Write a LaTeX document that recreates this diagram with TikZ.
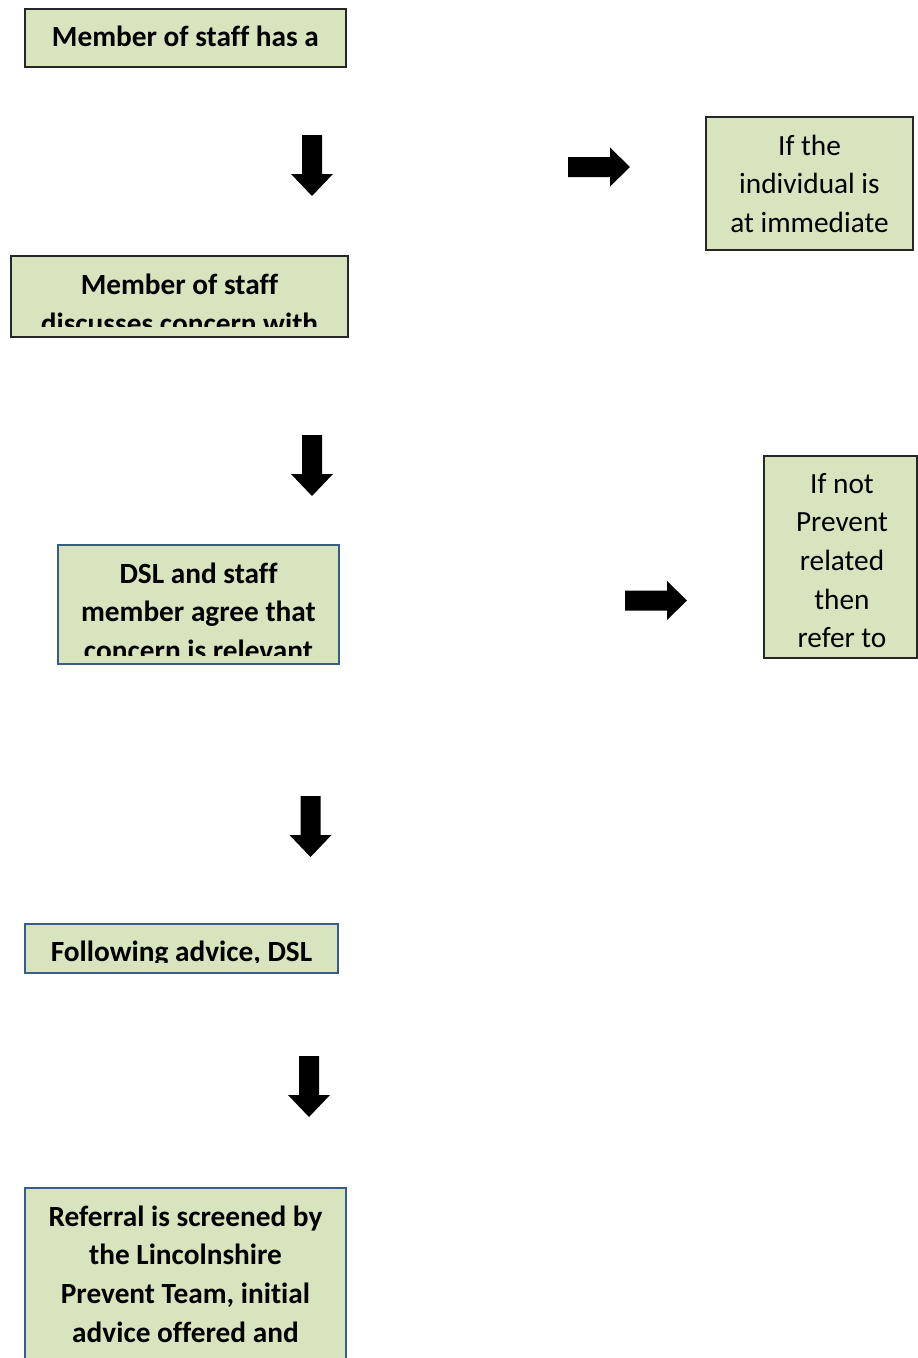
\documentclass[tikz,border=0pt]{standalone}
\usepackage{fontspec}
\setmainfont{Carlito}[Ligatures={NoCommon}]
\definecolor{boxfill}{HTML}{D7E4BD}
\definecolor{darkline}{HTML}{262626}
\definecolor{blueline}{HTML}{385D8A}
\begin{document}
\begin{tikzpicture}[x=1pt,y=-1pt,
  box/.style={draw=darkline, fill=boxfill, line width=1.2pt, inner sep=0pt},
  bluebox/.style={box, draw=blueline},
  txt/.style={anchor=base, inner sep=0pt, font=\fontsize{29.3}{38.7}\selectfont},
  btxt/.style={txt, font=\fontsize{29.3}{38.7}\selectfont\bfseries},
  downarr/.pic={\fill[black] (-10,0) -- (10,0) -- (10,39) -- (21,39) -- (0,61) -- (-21,39) -- (-10,39) -- cycle;},
  rightarr/.pic={\fill[black] (0,-10) -- (42,-10) -- (42,-19.5) -- (62,0) -- (42,19.5) -- (42,10) -- (0,10) -- cycle;}
]
\useasboundingbox (0,0) rectangle (918,1358);
\clip (0,0) rectangle (918,1358);
\fill[white] (0,0) rectangle (918,1358);

% boxes
\node[box, minimum width=321, minimum height=58] (b1) at (185.5,38) {};
\node[box, minimum width=337, minimum height=81] (b2) at (179.5,296.5) {};
\node[bluebox, minimum width=281, minimum height=119] (b3) at (198.5,604.5) {};
\node[box, minimum width=207, minimum height=133] (r1) at (809.5,183.5) {};
\node[box, minimum width=153, minimum height=202] (r2) at (840.5,557) {};
\node[bluebox, minimum width=313, minimum height=49] (b4) at (181.5,948.5) {};
\node[bluebox, minimum width=321, minimum height=184] (b5) at (185.5,1280) {};

% texts
\begin{scope}
\clip (25,12) rectangle (346,64);
\node[btxt] (b1t) at (b1.center |- 0,46) {\parbox[t]{500pt}{\centering Member of staff has a}};
\end{scope}
\begin{scope}
\clip (11,259) rectangle (348,326);
\node[btxt] (b2t) at (b2.center |- 0,294.5) {\parbox[t]{500pt}{\centering Member of staff\\discusses concern with}};
\end{scope}
\begin{scope}
\clip (58,548) rectangle (339,655);
\node[btxt] (b3t) at (b3.center |- 0,583) {\parbox[t]{500pt}{\centering DSL and staff\\member agree that\\concern is relevant}};
\end{scope}
\begin{scope}
\clip (706,120) rectangle (913,247);
\node[txt] (r1t) at (r1.center |- 0,155) {\parbox[t]{500pt}{\centering If the\\individual is\\at immediate}};
\end{scope}
\begin{scope}
\clip (764,459) rectangle (917,655);
\node[txt] (r2t) at ([xshift=1.5pt]r2.center |- 0,493) {\parbox[t]{500pt}{\centering If not\\Prevent\\related\\then\\refer to}};
\end{scope}
\begin{scope}
\clip (25,927) rectangle (338,962);
\node[btxt] (b4t) at (b4.center |- 0,961.5) {\parbox[t]{500pt}{\centering Following advice, DSL}};
\end{scope}
\node[btxt] (b5t) at (b5.center |- 0,1226) {\parbox[t]{500pt}{\centering Referral is screened by\\the Lincolnshire\\Prevent Team, initial\\advice offered and}};

% block arrows
\pic at (312,135) {downarr};
\pic at (312,435) {downarr};
\pic at (310.5,796) {downarr};
\pic at (309,1056) {downarr};
\pic at (568,167) {rightarr};
\pic at (625,600.5) {rightarr};
\end{tikzpicture}
\end{document}
